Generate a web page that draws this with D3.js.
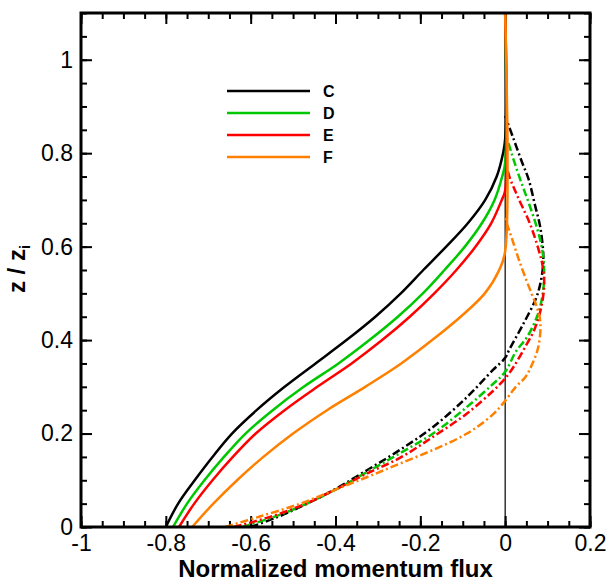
<!DOCTYPE html>
<html>
<head>
<meta charset="utf-8">
<script src="https://cdn.jsdelivr.net/npm/d3@7"></script>
<style>
body{margin:0;background:#fff}
svg{display:block}
text{font-family:"Liberation Sans",Arial,Helvetica,sans-serif}
</style>
</head>
<body>
<script>
// series names
var names = ["C","D","E","F"];
var colors = ["#000000","#00c800","#ff0000","#ff8000"];

// solid curves  [flux, z/zi]
var cSolid = [[-0.80,0],[-0.771,0.05],[-0.732,0.1],[-0.69,0.15],[-0.644,0.2],[-0.586,0.25],[-0.52,0.3],[-0.447,0.35],[-0.374,0.4],[-0.306,0.45],[-0.246,0.5],[-0.193,0.55],[-0.139,0.6],[-0.088,0.65],[-0.047,0.7],[-0.02,0.75],[-0.005,0.8],[0,0.83],[0,1.1]];
var dSolid = [[-0.783,0],[-0.75,0.05],[-0.709,0.1],[-0.663,0.15],[-0.612,0.2],[-0.548,0.25],[-0.475,0.3],[-0.393,0.35],[-0.32,0.4],[-0.253,0.45],[-0.194,0.5],[-0.143,0.55],[-0.095,0.6],[-0.055,0.65],[-0.025,0.7],[-0.007,0.75],[0,0.78],[0,1.1]];
var eSolid = [[-0.769,0],[-0.733,0.05],[-0.69,0.1],[-0.642,0.15],[-0.588,0.2],[-0.52,0.25],[-0.443,0.3],[-0.362,0.35],[-0.29,0.4],[-0.225,0.45],[-0.167,0.5],[-0.115,0.55],[-0.07,0.6],[-0.033,0.65],[-0.008,0.7],[0,0.72],[0,1.1]];
var fSolid = [[-0.738,0],[-0.688,0.05],[-0.632,0.1],[-0.57,0.15],[-0.5,0.2],[-0.42,0.25],[-0.33,0.3],[-0.245,0.35],[-0.172,0.4],[-0.105,0.45],[-0.048,0.5],[-0.014,0.55],[0,0.59],[0,1.1]];

// dash-dot curves  [flux, z/zi]
var cDash = [[-0.60,0],[-0.54,0.02],[-0.483,0.043],[-0.405,0.079],[-0.325,0.122],[-0.248,0.165],[-0.17,0.214],[-0.09,0.278],[-0.03,0.335],[0,0.362],[0.01,0.38],[0.043,0.435],[0.073,0.49],[0.085,0.53],[0.09,0.575],[0.083,0.64],[0.07,0.69],[0.055,0.745],[0.04,0.78],[0.02,0.83],[0,0.88]];
var dDash = [[-0.62,0],[-0.55,0.02],[-0.48,0.045],[-0.4,0.08],[-0.325,0.118],[-0.248,0.158],[-0.17,0.2],[-0.09,0.257],[-0.03,0.305],[0,0.332],[0.025,0.375],[0.052,0.407],[0.075,0.45],[0.087,0.49],[0.092,0.54],[0.088,0.59],[0.075,0.64],[0.055,0.695],[0.035,0.745],[0.015,0.8],[0,0.845]];
var eDash = [[-0.64,0],[-0.56,0.02],[-0.48,0.046],[-0.4,0.08],[-0.325,0.115],[-0.248,0.148],[-0.17,0.193],[-0.09,0.243],[-0.03,0.29],[0,0.318],[0.02,0.343],[0.047,0.385],[0.07,0.425],[0.085,0.47],[0.092,0.52],[0.088,0.56],[0.08,0.59],[0.058,0.65],[0.028,0.71],[0.01,0.75],[0,0.785]];
var fDash = [[-0.66,0],[-0.58,0.022],[-0.483,0.05],[-0.4,0.08],[-0.325,0.107],[-0.25,0.135],[-0.17,0.165],[-0.09,0.2],[-0.03,0.24],[0,0.27],[0.025,0.3],[0.047,0.32],[0.062,0.345],[0.078,0.385],[0.083,0.437],[0.075,0.47],[0.062,0.5],[0.035,0.565],[0.015,0.62],[0.004,0.65],[0,0.665]];

// ticks
var xMajor = [-1,-0.8,-0.6,-0.4,-0.2,0,0.2];
var yMajor = [0,0.2,0.4,0.6,0.8,1];

var solids = [cSolid,dSolid,eSolid,fSolid];
var dashes = [cDash,dDash,eDash,fDash];

var W = 608, H = 582;
var L = 81, R = 590, T = 13, B = 527;

var svg = d3.select("body").append("svg")
	.attr("width",W)
	.attr("height",H);

var x = d3.scaleLinear().domain([-1,0.2]).range([L,R]);
var y = d3.scaleLinear().domain([0,1.1]).range([B,T]);

// minor ticks every 0.05
var xMinor = d3.range(-1,0.2001,0.05).map(function(d){return +d.toFixed(2);});
var yMinor = d3.range(0,1.1001,0.05).map(function(d){return +d.toFixed(2);});

function fmt(d){
	if(d===0) return "0";
	return String(+d.toFixed(1));
}

function tickAxis(axis, pos, vals, size, labels){
	var g = svg.append("g")
		.attr("transform",pos)
		.call(axis.tickValues(vals).tickSize(size).tickPadding(labels ? 8 : 0)
			.tickFormat(labels ? fmt : ""));
	g.select(".domain").remove();
	g.selectAll("line").attr("stroke","#000").attr("stroke-width",2);
	g.selectAll("text").attr("font-size",23).attr("fill","#000")
		.style("font-family","'Liberation Sans',Arial,Helvetica,sans-serif");
	return g;
}

// bottom / top
tickAxis(d3.axisBottom(x),"translate(0,"+B+")",xMinor,-6,false);
tickAxis(d3.axisBottom(x),"translate(0,"+B+")",xMajor,-11,true);
tickAxis(d3.axisTop(x),"translate(0,"+T+")",xMinor,-6,false);
tickAxis(d3.axisTop(x),"translate(0,"+T+")",xMajor,-11,false);
// left / right
tickAxis(d3.axisLeft(y),"translate("+L+",0)",yMinor,-6,false);
tickAxis(d3.axisLeft(y),"translate("+L+",0)",yMajor,-11,true);
tickAxis(d3.axisRight(y),"translate("+R+",0)",yMinor,-6,false);
tickAxis(d3.axisRight(y),"translate("+R+",0)",yMajor,-11,false);

// thin zero line
svg.append("line")
	.attr("x1",x(0)).attr("x2",x(0))
	.attr("y1",y(0)).attr("y2",y(1.1))
	.attr("stroke","#000")
	.attr("stroke-width",1.2);

var line = d3.line()
	.x(function(d){return x(d[0]);})
	.y(function(d){return y(d[1]);})
	.curve(d3.curveCatmullRom.alpha(0.5));

var plot = svg.append("g");
for(var i=0;i<4;i++){
	plot.append("path")
		.attr("d",line(dashes[i]))
		.attr("fill","none")
		.attr("stroke",colors[i])
		.attr("stroke-width",2.5)
		.attr("stroke-dasharray","8,3,2,3");
}
for(var i=0;i<4;i++){
	plot.append("path")
		.attr("d",line(solids[i]))
		.attr("fill","none")
		.attr("stroke",colors[i])
		.attr("stroke-width",2.5);
}

// frame
svg.append("rect")
	.attr("x",L).attr("y",T)
	.attr("width",R-L).attr("height",B-T)
	.attr("fill","none")
	.attr("stroke","#000")
	.attr("stroke-width",3);

// legend
var leg = svg.append("g").attr("transform","translate(227,91)");
names.forEach(function(n,i){
	leg.append("line")
		.attr("x1",0).attr("x2",83)
		.attr("y1",i*22).attr("y2",i*22)
		.attr("stroke",colors[i])
		.attr("stroke-width",2.5);
	leg.append("text")
		.attr("x",96).attr("y",i*22+5.5)
		.attr("font-size",16)
		.attr("font-weight","bold")
		.text(n);
});

// axis titles
svg.append("text")
	.attr("x",(178+493)/2).attr("y",577)
	.attr("text-anchor","middle")
	.attr("font-size",24)
	.attr("font-weight","bold")
	.text("Normalized momentum flux");

var yt = svg.append("text")
	.attr("transform","translate(25,269) rotate(-90)")
	.attr("text-anchor","middle")
	.attr("font-size",24)
	.attr("font-weight","bold");
yt.append("tspan").text("z / z");
yt.append("tspan").attr("font-size",15).attr("dy",5).text("i");
</script>
</body>
</html>
